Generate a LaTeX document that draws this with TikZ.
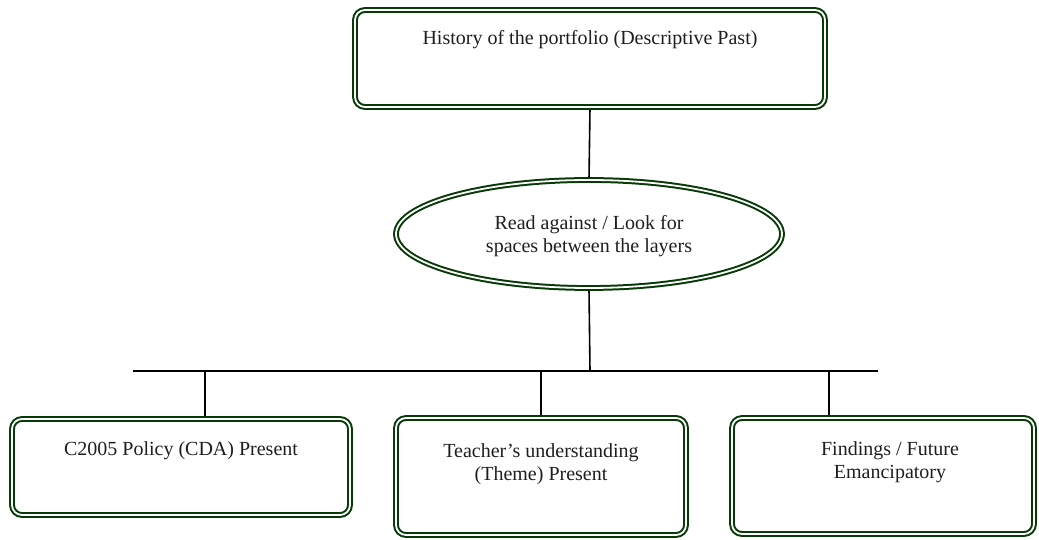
\documentclass[tikz,border=0pt]{standalone}
\usepackage{fontspec}
\setmainfont{Liberation Serif}
\usetikzlibrary{shapes.geometric,backgrounds}
\definecolor{dgreen}{RGB}{6,58,6}
\definecolor{txtc}{RGB}{30,30,30}
\begin{document}
\begin{tikzpicture}[x=1pt,y=-1pt,
  frame/.style={draw=dgreen, double=white, line width=2pt, double distance=1.8pt, inner sep=0pt},
  rbox/.style={frame, rectangle, rounded corners=10pt},
  ebox/.style={frame, ellipse},
  txt/.style={text=txtc, align=center, inner sep=0pt, anchor=base, font=\fontsize{20}{23}\selectfont},
  conn/.style={draw=black, line width=1.6pt}]
\useasboundingbox (0,0) rectangle (1039,540);
\node[rbox, minimum width=470pt, minimum height=97pt] (top) at (590,58.5) {};
\node[ebox, minimum width=386pt, minimum height=108pt] (ell) at (589,234) {};
\node[rbox, minimum width=338pt, minimum height=96pt] (b1) at (181,467) {};
\node[rbox, minimum width=290pt, minimum height=117pt] (b2) at (541,476.5) {};
\node[rbox, minimum width=302pt, minimum height=116pt] (b3) at (883,476) {};
\node[txt] (t0) at (590,45) {History of the portfolio (Descriptive Past)};
\node[txt] (te) at (589,252) {Read against / Look for\\spaces between the layers};
\node[txt] (t1) at (181,455) {C2005 Policy (CDA) Present};
\node[txt] (t2) at (541,480) {Teacher’s understanding\\(Theme) Present};
\node[txt] (t3) at (890,478) {Findings / Future\\Emancipatory};
\coordinate (busL) at (133,371);
\coordinate (busR) at (878,371);
\coordinate (busM) at (590,371);
\coordinate (d1) at (205,371);
\coordinate (d2) at (541,371);
\coordinate (d3) at (829,371);
\begin{pgfonlayer}{background}
\draw[conn] (top.south) -- (ell.north);
\draw[conn] (ell.south) -- (busM);
\draw[conn] (busL) -- (busR);
\draw[conn] (d1) -- (d1 |- b1.north);
\draw[conn] (d2) -- (d2 |- b2.north);
\draw[conn] (d3) -- (d3 |- b3.north);
\end{pgfonlayer}
\end{tikzpicture}
\end{document}
